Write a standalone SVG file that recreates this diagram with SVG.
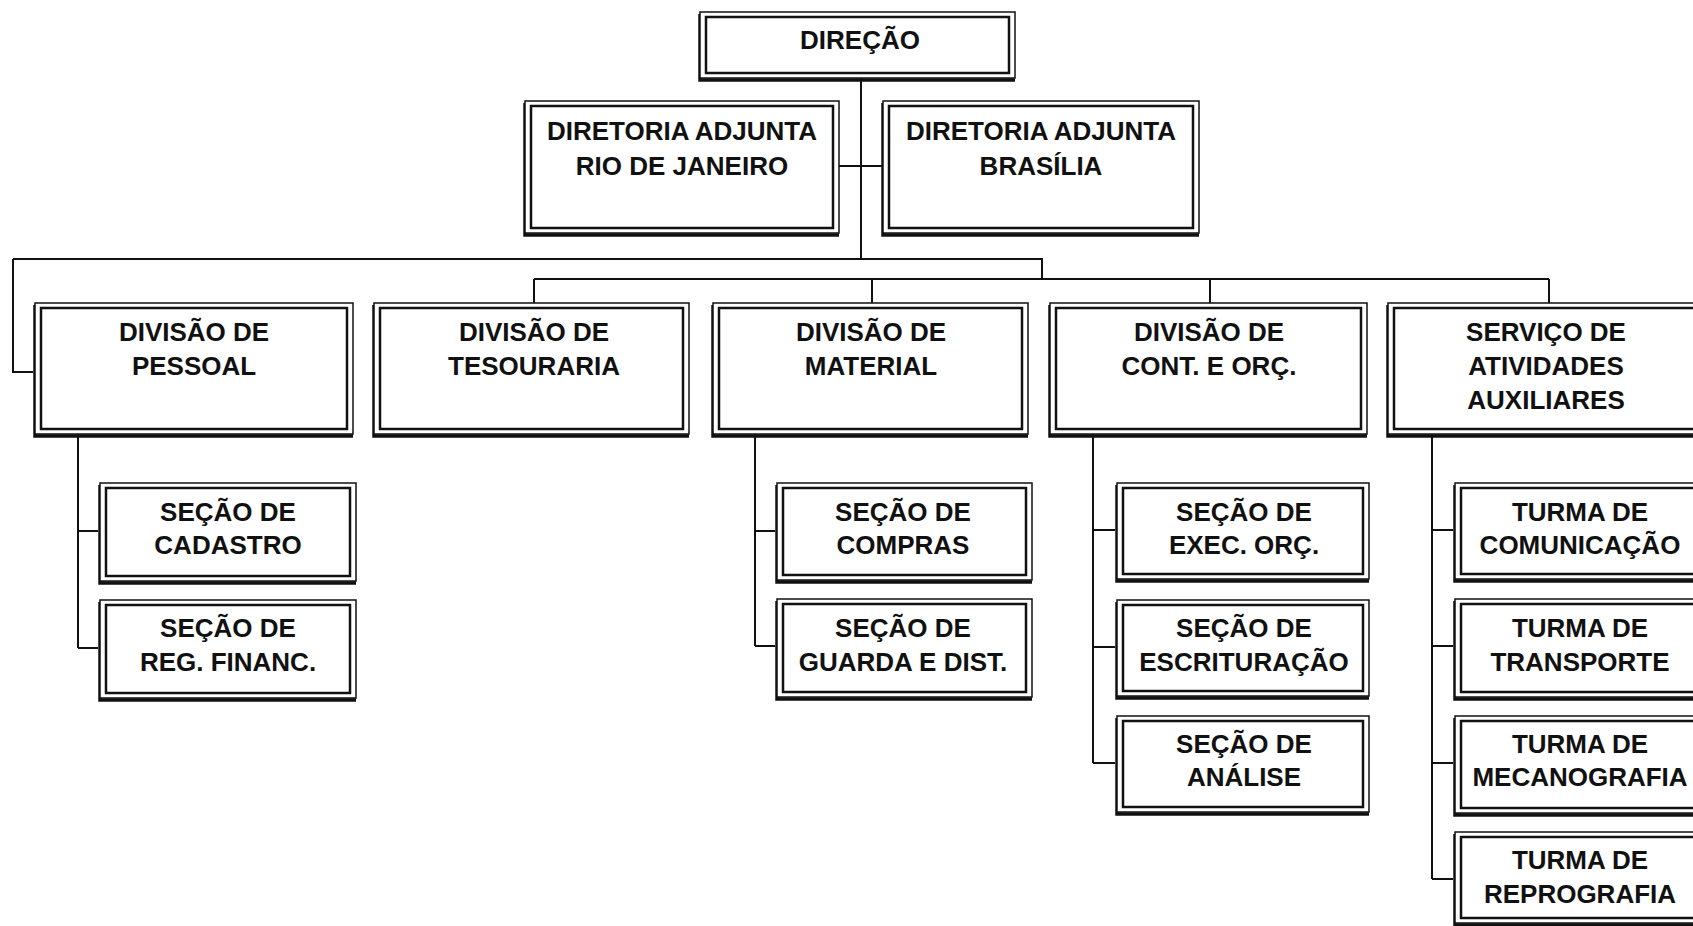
<svg xmlns="http://www.w3.org/2000/svg" width="1693" height="926" viewBox="0 0 1693 926">
<style>
.o{fill:#fff;stroke:#111;stroke-width:1.5}
.i{fill:none;stroke:#111;stroke-width:2.5}
.s{fill:none;stroke:#111;stroke-width:3.5}
.c{fill:none;stroke:#111;stroke-width:2}
text{font-family:"Liberation Sans",Arial,sans-serif;font-weight:bold;font-size:26px;fill:#111;text-anchor:middle}
</style>
<rect width="1693" height="926" fill="#fff"/>
<g id="connectors">
<path class="c" d="M861,78 V259 M839,166 H883 M13,259 H1042 V279 M13,259 V372 H33 M534,279 H1549 M534,279 V303 M872,279 V303 M1210,279 V303 M1549,279 V303"/>
<path class="c" d="M78,434 V648 M78,531 H98 M78,648 H98"/>
<path class="c" d="M755,434 V646 M755,531 H775 M755,646 H775"/>
<path class="c" d="M1093,434 V763 M1093,530 H1115 M1093,647 H1115 M1093,763 H1115"/>
<path class="c" d="M1432,434 V879 M1432,530 H1453 M1432,646 H1453 M1432,763 H1453 M1432,879 H1453"/>
</g>
<g id="direcao">
<path class="s" d="M700,14 V80 H1015"/><rect class="o" x="700" y="12" width="315" height="66"/><rect class="i" x="706" y="17" width="303" height="56"/>
<text x="860" y="49">DIREÇÃO</text>
</g>
<g id="dir-rj">
<path class="s" d="M525,103 V235 H839"/><rect class="o" x="525" y="101" width="314" height="132"/><rect class="i" x="531" y="106" width="302" height="122"/>
<text x="682" y="140">DIRETORIA ADJUNTA</text><text x="682" y="175">RIO DE JANEIRO</text>
</g>
<g id="dir-bsb">
<path class="s" d="M883,103 V235 H1199"/><rect class="o" x="883" y="101" width="316" height="132"/><rect class="i" x="889" y="106" width="304" height="122"/>
<text x="1041" y="140">DIRETORIA ADJUNTA</text><text x="1041" y="175">BRASÍLIA</text>
</g>
<g id="div-pessoal">
<path class="s" d="M35,305 V436 H353"/><rect class="o" x="35" y="303" width="318" height="131"/><rect class="i" x="41" y="308" width="306" height="121"/>
<text x="194" y="341">DIVISÃO DE</text><text x="194" y="375">PESSOAL</text>
</g>
<g id="div-tesouraria">
<path class="s" d="M374,305 V436 H689"/><rect class="o" x="374" y="303" width="315" height="131"/><rect class="i" x="380" y="308" width="303" height="121"/>
<text x="534" y="341">DIVISÃO DE</text><text x="534" y="375">TESOURARIA</text>
</g>
<g id="div-material">
<path class="s" d="M713,305 V436 H1028"/><rect class="o" x="713" y="303" width="315" height="131"/><rect class="i" x="719" y="308" width="303" height="121"/>
<text x="871" y="341">DIVISÃO DE</text><text x="871" y="375">MATERIAL</text>
</g>
<g id="div-cont">
<path class="s" d="M1050,305 V436 H1367"/><rect class="o" x="1050" y="303" width="317" height="131"/><rect class="i" x="1056" y="308" width="305" height="121"/>
<text x="1209" y="341">DIVISÃO DE</text><text x="1209" y="375">CONT. E ORÇ.</text>
</g>
<g id="serv-aux">
<path class="s" d="M1388,305 V436 H1708"/><rect class="o" x="1388" y="303" width="320" height="131"/><rect class="i" x="1394" y="308" width="308" height="121"/>
<text x="1546" y="341">SERVIÇO DE</text><text x="1546" y="375">ATIVIDADES</text><text x="1546" y="409">AUXILIARES</text>
</g>
<g id="sec-cadastro">
<path class="s" d="M100,485 V583 H356"/><rect class="o" x="100" y="483" width="256" height="98"/><rect class="i" x="106" y="488" width="244" height="88"/>
<text x="228" y="521">SEÇÃO DE</text><text x="228" y="554">CADASTRO</text>
</g>
<g id="sec-reg">
<path class="s" d="M100,602 V700 H356"/><rect class="o" x="100" y="600" width="256" height="98"/><rect class="i" x="106" y="605" width="244" height="88"/>
<text x="228" y="637">SEÇÃO DE</text><text x="228" y="671">REG. FINANC.</text>
</g>
<g id="sec-compras">
<path class="s" d="M777,485 V582 H1032"/><rect class="o" x="777" y="483" width="255" height="97"/><rect class="i" x="783" y="488" width="243" height="87"/>
<text x="903" y="521">SEÇÃO DE</text><text x="903" y="554">COMPRAS</text>
</g>
<g id="sec-guarda">
<path class="s" d="M777,601 V699 H1032"/><rect class="o" x="777" y="599" width="255" height="98"/><rect class="i" x="783" y="604" width="243" height="88"/>
<text x="903" y="637">SEÇÃO DE</text><text x="903" y="671">GUARDA E DIST.</text>
</g>
<g id="sec-exec">
<path class="s" d="M1117,485 V581 H1369"/><rect class="o" x="1117" y="483" width="252" height="96"/><rect class="i" x="1123" y="488" width="240" height="86"/>
<text x="1244" y="521">SEÇÃO DE</text><text x="1244" y="554">EXEC. ORÇ.</text>
</g>
<g id="sec-escrit">
<path class="s" d="M1117,602 V698 H1369"/><rect class="o" x="1117" y="600" width="252" height="96"/><rect class="i" x="1123" y="605" width="240" height="86"/>
<text x="1244" y="637">SEÇÃO DE</text><text x="1244" y="671">ESCRITURAÇÃO</text>
</g>
<g id="sec-analise">
<path class="s" d="M1117,718 V814 H1369"/><rect class="o" x="1117" y="716" width="252" height="96"/><rect class="i" x="1123" y="721" width="240" height="86"/>
<text x="1244" y="753">SEÇÃO DE</text><text x="1244" y="786">ANÁLISE</text>
</g>
<g id="turma-com">
<path class="s" d="M1455,485 V581 H1715"/><rect class="o" x="1455" y="483" width="260" height="96"/><rect class="i" x="1461" y="488" width="248" height="86"/>
<text x="1580" y="521">TURMA DE</text><text x="1580" y="554">COMUNICAÇÃO</text>
</g>
<g id="turma-transp">
<path class="s" d="M1455,601 V699 H1715"/><rect class="o" x="1455" y="599" width="260" height="98"/><rect class="i" x="1461" y="604" width="248" height="88"/>
<text x="1580" y="637">TURMA DE</text><text x="1580" y="671">TRANSPORTE</text>
</g>
<g id="turma-mec">
<path class="s" d="M1455,718 V815 H1715"/><rect class="o" x="1455" y="716" width="260" height="97"/><rect class="i" x="1461" y="721" width="248" height="87"/>
<text x="1580" y="753">TURMA DE</text><text x="1580" y="786">MECANOGRAFIA</text>
</g>
<g id="turma-repro">
<path class="s" d="M1455,834 V925 H1715"/><rect class="o" x="1455" y="832" width="260" height="91"/><rect class="i" x="1461" y="837" width="248" height="81"/>
<text x="1580" y="869">TURMA DE</text><text x="1580" y="903">REPROGRAFIA</text>
</g>
</svg>
